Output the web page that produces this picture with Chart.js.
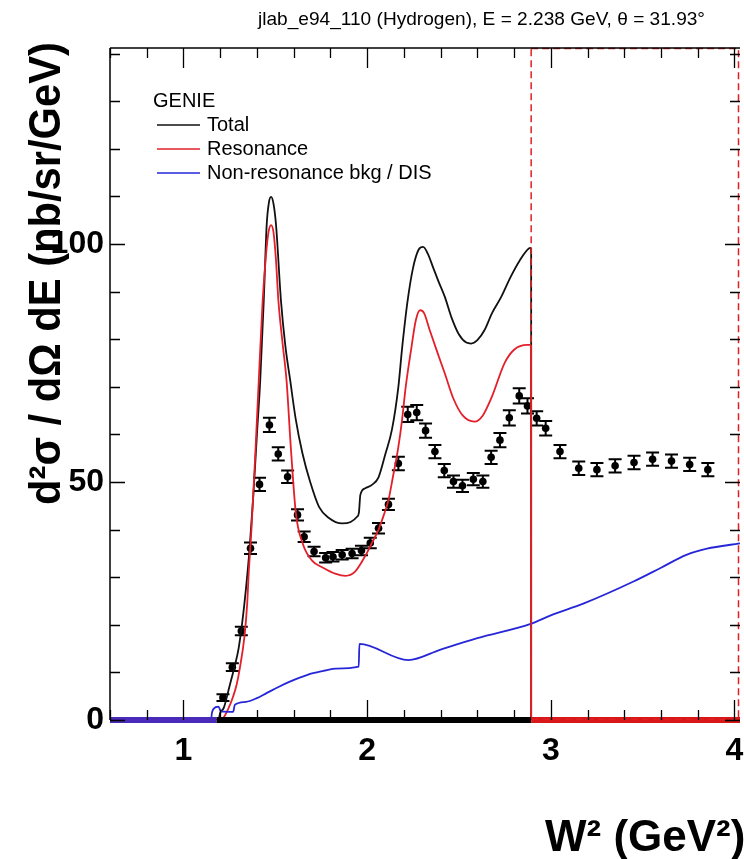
<!DOCTYPE html>
<html>
<head>
<meta charset="utf-8">
<script src="https://cdn.jsdelivr.net/npm/chart.js@4.4.0/dist/chart.umd.min.js"></script>
<style>
  html, body { margin: 0; padding: 0; background: #fff; }
  #wrap { position: relative; width: 744px; height: 859px; }
</style>
</head>
<body>
<div id="wrap"><canvas id="chart"></canvas></div>
<script>
// jlab_e94_110 data points (W2 in GeV^2, xsec in nb/sr/GeV)
const dataW2 = [1.215, 1.266, 1.315, 1.365, 1.414, 1.468, 1.516, 1.567, 1.621, 1.657,
  1.711, 1.774, 1.814, 1.864, 1.918, 1.969, 2.017, 2.062, 2.116, 2.170,
  2.221, 2.270, 2.318, 2.369, 2.420, 2.470, 2.519, 2.578, 2.630, 2.675,
  2.723, 2.774, 2.828, 2.873, 2.923, 2.972, 3.050, 3.152, 3.251, 3.350,
  3.453, 3.554, 3.657, 3.756, 3.855];
const dataXsec = [4.7, 11.1, 18.7, 36.1, 49.5, 62.0, 55.9, 51.1, 43.1, 38.5,
  35.4, 34.1, 34.3, 34.7, 35.0, 35.6, 37.2, 40.3, 45.3, 53.9,
  64.2, 64.6, 60.8, 56.4, 52.4, 50.1, 49.2, 50.6, 50.1, 55.2,
  58.8, 63.5, 68.1, 66.0, 63.4, 61.3, 56.4, 52.9, 52.6, 53.4,
  54.1, 54.8, 54.4, 53.7, 52.6];
const dataErr = [0.7, 0.8, 0.9, 1.2, 1.4, 1.5, 1.4, 1.3, 1.2, 1.1,
  1.0, 1.0, 1.0, 1.0, 1.0, 1.0, 1.1, 1.1, 1.2, 1.4,
  1.6, 1.6, 1.5, 1.4, 1.4, 1.3, 1.3, 1.3, 1.3, 1.4,
  1.5, 1.6, 1.6, 1.6, 1.5, 1.5, 1.4, 1.4, 1.4, 1.4,
  1.4, 1.4, 1.4, 1.4, 1.4];

// GENIE total (drops to zero at the last point)
const totalW2 = [0.6, 1.19, 1.20, 1.22, 1.25, 1.28, 1.30, 1.32, 1.34, 1.36, 1.38, 1.40, 1.418,
  1.437, 1.453, 1.465, 1.477, 1.49, 1.504, 1.531, 1.555, 1.581, 1.61, 1.648, 1.69,
  1.738, 1.79, 1.864, 1.91, 1.945, 1.955, 1.963, 1.99, 2.026, 2.062, 2.10, 2.135, 2.17,
  2.19, 2.22, 2.25, 2.28, 2.305, 2.33, 2.36, 2.39, 2.423, 2.46, 2.50, 2.54, 2.566, 2.60,
  2.64, 2.68, 2.73, 2.78, 2.83, 2.882, 2.893];
const totalXsec = [0, 0, 1.5, 2.6, 7, 11.5, 15, 20.5, 27.5, 36, 47, 60, 71.4,
  88, 104, 108.7, 109.9, 108.5, 104, 88, 78.5, 71.4, 63.5, 56, 50,
  44.8, 42.5, 41.3, 41.6, 42.7, 43.5, 47.3, 48.7, 49.4, 51, 56, 61, 70,
  78, 88, 95, 98.8, 99.4, 98, 95, 92, 88.9, 84.5, 81, 79.3, 79.1, 79.8,
  82, 85.5, 88.9, 93, 96.5, 99.1, 99.2];

// GENIE resonance
const resW2 = [0.6, 1.21, 1.216, 1.24, 1.27, 1.29, 1.305, 1.332, 1.347, 1.356, 1.37, 1.39, 1.41,
  1.431, 1.45, 1.463, 1.477, 1.49, 1.503, 1.517, 1.54, 1.561, 1.585, 1.612, 1.65, 1.70, 1.76,
  1.83, 1.883, 1.93, 1.99, 2.03, 2.062, 2.09, 2.116, 2.14, 2.17, 2.19, 2.21, 2.24, 2.265,
  2.288, 2.31, 2.34, 2.38, 2.423, 2.47, 2.52, 2.585, 2.63, 2.68, 2.747, 2.80, 2.873, 2.893];
const resXsec = [0, 0, 0.3, 2, 4.9, 7.5, 10.5, 17.5, 24.5, 31.5, 40, 55, 71.4,
  88, 98, 102.5, 104, 102.5, 97, 88, 79, 71.4, 57, 43.4, 37, 33.5, 32,
  30.7, 30.3, 31, 34.5, 37.5, 40, 43, 46.2, 51, 57.4, 63, 70, 78, 84,
  86.1, 85.5, 82, 77.5, 72.8, 67.5, 64, 62.7, 64, 68, 74.9, 77.8, 78.8, 78.8];

// GENIE non-resonance bkg / DIS
const bkgW2 = [0.6, 1.15, 1.155, 1.165, 1.19, 1.205, 1.27, 1.28, 1.34, 1.40, 1.45, 1.52, 1.576,
  1.64, 1.70, 1.77, 1.83, 1.954, 1.958, 2.224, 2.40, 2.60, 2.89, 3.00, 3.18, 3.45, 3.60,
  3.738, 3.85, 4.03];
const bkgXsec = [0, 0, 1.5, 2.4, 2.8, 1.8, 1.7, 3.2, 3.8, 4.6, 5.6, 7, 8.0,
  9, 9.8, 10.4, 10.8, 11.2, 16.0, 12.6, 14.8, 17.2, 20.2, 22, 24.5, 29.1, 32,
  34.7, 36, 37.1];

// zero-level band along the axis, split where the colour changes
const baseEdges = [0.6, 1.18, 2.893, 4.03];
const baseColors = ['#4a2ab8', '#000000', '#d81818'];

const xTickLabels = [1, 2, 3, 4];
const yTickLabels = [0, 50, 100];
const xMinorStep = 0.2;
const yMinorStep = 10;

const titleText = 'jlab_e94_110 (Hydrogen), E = 2.238 GeV, \u03b8 = 31.93\u00b0';
const xTitle = 'W\u00b2 (GeV\u00b2)';
const yTitle = 'd\u00b2\u03c3 / d\u03a9 dE (nb/sr/GeV)';
const legendHeader = 'GENIE';
const legendNames = ['Total', 'Resonance', 'Non-resonance bkg / DIS'];
const lineColors = ['#111111', '#e3202a', '#2626d8'];

const FONT = "'Liberation Sans', Arial, Helvetica, sans-serif";

function toPoints(xs, ys) {
    return xs.map((x, i) => ({x: x, y: ys[i]}));
}

// draw error bars right after the data dataset so curves stay on top
const errorBars = {
    id: 'errorBars',
    afterDatasetDraw(chart, args) {
        if (args.index !== 0) return;
        const {ctx, scales: {x, y}} = chart;
        ctx.save();
        ctx.strokeStyle = '#000';
        ctx.lineWidth = 2;
        dataW2.forEach((w, i) => {
            const px = x.getPixelForValue(w);
            const lo = y.getPixelForValue(dataXsec[i] - dataErr[i]);
            const hi = y.getPixelForValue(dataXsec[i] + dataErr[i]);
            ctx.beginPath();
            ctx.moveTo(px, lo); ctx.lineTo(px, hi);
            ctx.moveTo(px - 6.5, lo); ctx.lineTo(px + 6.5, lo);
            ctx.moveTo(px - 6.5, hi); ctx.lineTo(px + 6.5, hi);
            ctx.stroke();
        });
        ctx.restore();
    }
};

function fitText(ctx, text, width) {
    const w = ctx.measureText(text).width;
    return width / w;
}

// ROOT-like frame, inward ticks, titles and legend
const rootFrame = {
    id: 'rootFrame',
    afterDraw(chart) {
        const {ctx, chartArea: a, scales: {x, y}} = chart;
        ctx.save();

        // red dashed box
        ctx.strokeStyle = '#e02020';
        ctx.lineWidth = 1.5;
        ctx.setLineDash([7, 4]);
        const bx = x.getPixelForValue(2.893);
        ctx.strokeRect(bx, a.top + 0.5, a.right - 1.5 - bx, a.bottom - a.top - 1);
        ctx.setLineDash([]);

        // frame
        ctx.strokeStyle = '#000';
        ctx.lineWidth = 1.5;
        ctx.beginPath();
        ctx.moveTo(a.left, a.top);
        ctx.lineTo(a.left, a.bottom);
        ctx.moveTo(a.left, a.top);
        ctx.lineTo(a.right, a.top);
        ctx.stroke();

        // x ticks (bottom and top)
        ctx.lineWidth = 1.3;
        ctx.beginPath();
        for (let v = 0.6; v <= x.max + 1e-6; v += xMinorStep) {
            const px = Math.round(x.getPixelForValue(v)) + 0.5;
            const major = Math.abs(v - Math.round(v)) < 1e-6;
            const len = major ? 20 : 10;
            ctx.moveTo(px, a.bottom); ctx.lineTo(px, a.bottom - len);
            ctx.moveTo(px, a.top); ctx.lineTo(px, a.top + len);
        }
        // y ticks (left and right)
        for (let v = 0; v <= y.max + 1e-6; v += yMinorStep) {
            const py = Math.round(y.getPixelForValue(v)) + 0.5;
            const major = v % 50 === 0;
            const len = major ? 15 : 10;
            ctx.moveTo(a.left, py); ctx.lineTo(a.left + len, py);
            ctx.moveTo(a.right, py); ctx.lineTo(a.right - len, py);
        }
        ctx.stroke();

        // plot title
        ctx.fillStyle = '#000';
        ctx.font = '19px ' + FONT;
        ctx.textBaseline = 'alphabetic';
        ctx.textAlign = 'left';
        let s = fitText(ctx, titleText, 447);
        ctx.save();
        ctx.translate(258, 25);
        ctx.scale(s, 1);
        ctx.fillText(titleText, 0, 0);
        ctx.restore();

        // axis titles
        ctx.font = 'bold 44px ' + FONT;
        ctx.fillText(xTitle, 545, 851);

        s = fitText(ctx, yTitle, 463);
        ctx.save();
        ctx.translate(60, 505);
        ctx.rotate(-Math.PI / 2);
        ctx.scale(s, 1);
        ctx.fillText(yTitle, 0, 0);
        ctx.restore();

        // legend
        ctx.font = '20px ' + FONT;
        ctx.textBaseline = 'middle';
        ctx.fillText(legendHeader, 153, 101);
        legendNames.forEach((name, i) => {
            const ly = 125 + i * 24;
            ctx.strokeStyle = lineColors[i];
            ctx.lineWidth = 1.6;
            ctx.beginPath();
            ctx.moveTo(157, ly); ctx.lineTo(200, ly);
            ctx.stroke();
            ctx.fillText(name, 207, ly);
        });

        ctx.restore();
    }
};

function curve(xs, ys, color, order) {
    return {
        data: toPoints(xs, ys), showLine: true, pointRadius: 0, borderColor: color,
        borderWidth: 1.8, cubicInterpolationMode: 'monotone', order: order
    };
}

// vertical drop to zero after the last point of a curve
function drop(xs, ys, color, order) {
    const n = xs.length - 1;
    return {
        data: [{x: xs[n], y: ys[n]}, {x: xs[n], y: 0}], showLine: true, pointRadius: 0,
        borderColor: color, borderWidth: 1.8, tension: 0, order: order
    };
}

const datasets = [
    {
        data: toPoints(dataW2, dataXsec), showLine: false, pointRadius: 3.8,
        pointBackgroundColor: '#000', pointBorderColor: '#000', pointBorderWidth: 0, order: 10
    },
    curve(totalW2, totalXsec, lineColors[0], 8),
    drop(totalW2, totalXsec, lineColors[0], 7),
    curve(resW2, resXsec, lineColors[1], 6),
    drop(resW2, resXsec, lineColors[1], 5),
    curve(bkgW2, bkgXsec, lineColors[2], 4)
];
baseColors.forEach((c, i) => {
    datasets.push({
        data: [{x: baseEdges[i], y: 0}, {x: baseEdges[i + 1], y: 0}], showLine: true,
        pointRadius: 0, borderColor: c, borderWidth: 6, tension: 0, clip: false, order: 3 - i
    });
});

let ctx = document.getElementById('chart').getContext('2d');
window.plot = new Chart(ctx, {
    type: 'scatter',
    data: { datasets: datasets },
    options: {
        responsive: true,
        maintainAspectRatio: false,
        animation: false,
        devicePixelRatio: 1,
        layout: { padding: { top: 48, right: 1, left: 0, bottom: 0 } },
        plugins: { legend: { display: false }, tooltip: { enabled: false }, title: { display: false } },
        scales: {
            x: {
                type: 'linear', min: 0.6, max: 4.03,
                grid: { display: false, drawTicks: false }, border: { display: false },
                afterBuildTicks: s => { s.ticks = xTickLabels.map(v => ({value: v})); },
                afterFit: s => { s.height = 139; s.paddingLeft = 0; s.paddingRight = 0; },
                ticks: {
                    color: '#000', padding: 12, maxRotation: 0, autoSkip: false,
                    font: { family: FONT, size: 32, weight: 'bold' }
                }
            },
            y: {
                type: 'linear', min: 0, max: 141.2,
                grid: { display: false, drawTicks: false }, border: { display: false },
                afterBuildTicks: s => { s.ticks = yTickLabels.map(v => ({value: v})); },
                afterFit: s => { s.width = 110; s.paddingTop = 0; s.paddingBottom = 0; },
                ticks: {
                    color: '#000', padding: 6, autoSkip: false,
                    font: { family: FONT, size: 32, weight: 'bold' }
                }
            }
        }
    },
    plugins: [errorBars, rootFrame]
});
</script>
</body>
</html>
